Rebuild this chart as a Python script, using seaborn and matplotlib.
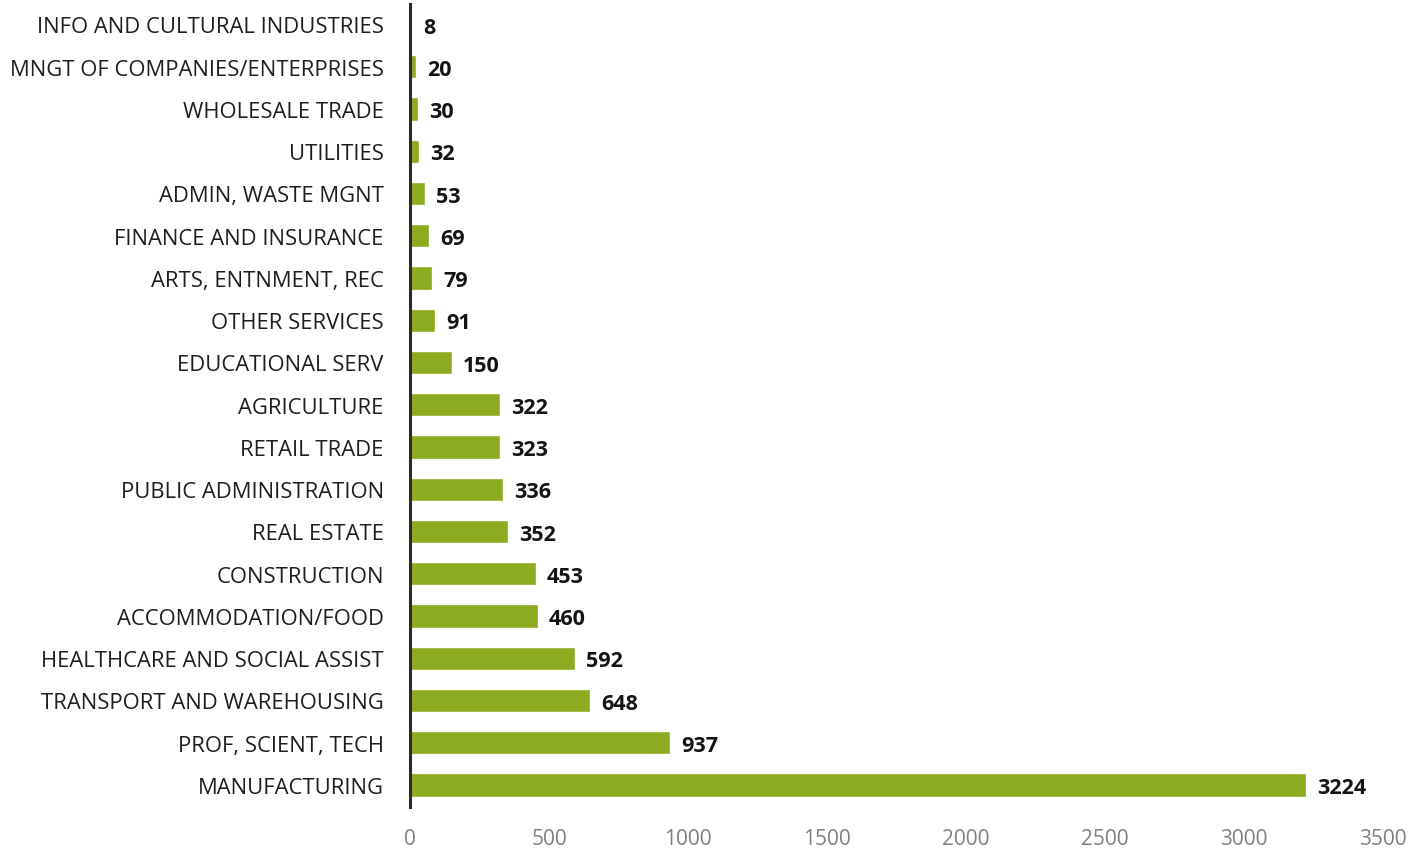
import matplotlib
matplotlib.use("Agg")
import matplotlib.pyplot as plt
import seaborn as sns
import pandas as pd

industries = [
    "INFO AND CULTURAL INDUSTRIES",
    "MNGT OF COMPANIES/ENTERPRISES",
    "WHOLESALE TRADE",
    "UTILITIES",
    "ADMIN, WASTE MGNT",
    "FINANCE AND INSURANCE",
    "ARTS, ENTNMENT, REC",
    "OTHER SERVICES",
    "EDUCATIONAL SERV",
    "AGRICULTURE",
    "RETAIL TRADE",
    "PUBLIC ADMINISTRATION",
    "REAL ESTATE",
    "CONSTRUCTION",
    "ACCOMMODATION/FOOD",
    "HEALTHCARE AND SOCIAL ASSIST",
    "TRANSPORT AND WAREHOUSING",
    "PROF, SCIENT, TECH",
    "MANUFACTURING",
]
counts = [8, 20, 30, 32, 53, 69, 79, 91, 150, 322, 323, 336, 352, 453, 460, 592, 648, 937, 3224]
x_ticks = [0, 500, 1000, 1500, 2000, 2500, 3000, 3500]

df = pd.DataFrame({"industry": industries, "count": counts})

sns.set_theme(style="white")
plt.rcParams["font.family"] = ["Open Sans", "DejaVu Sans"]

fig = plt.figure(figsize=(14.09, 8.54), dpi=100)
ax = fig.add_axes([0.291, 0.054, 0.6905, 0.940])

bar_color = "#8dab20"
sns.barplot(data=df, x="count", y="industry", orient="h", color=bar_color,
            width=0.55, saturation=1, ax=ax)

ax.set_xlim(0, 3500)
ax.set_ylim(len(industries) - 0.48, -0.48)
ax.set_xticks(x_ticks)
ax.set_xticklabels([str(t) for t in x_ticks], color="#808080", fontsize=15)
ax.tick_params(axis="x", length=0, pad=15)
ax.tick_params(axis="y", length=0, pad=19, labelsize=15.8, labelcolor="#1e1e1e")
ax.set_xlabel("")
ax.set_ylabel("")

for s in ["top", "right", "bottom"]:
    ax.spines[s].set_visible(False)
ax.spines["left"].set_color("#2b2b2b")
ax.spines["left"].set_linewidth(2.2)

for i, v in enumerate(counts):
    ax.annotate(str(v), xy=(v, i), xytext=(8, -2), textcoords="offset points",
                ha="left", va="center", fontsize=15.5, fontweight="bold",
                color="#141414")

fig.savefig("out.png", dpi=100, facecolor="white")
